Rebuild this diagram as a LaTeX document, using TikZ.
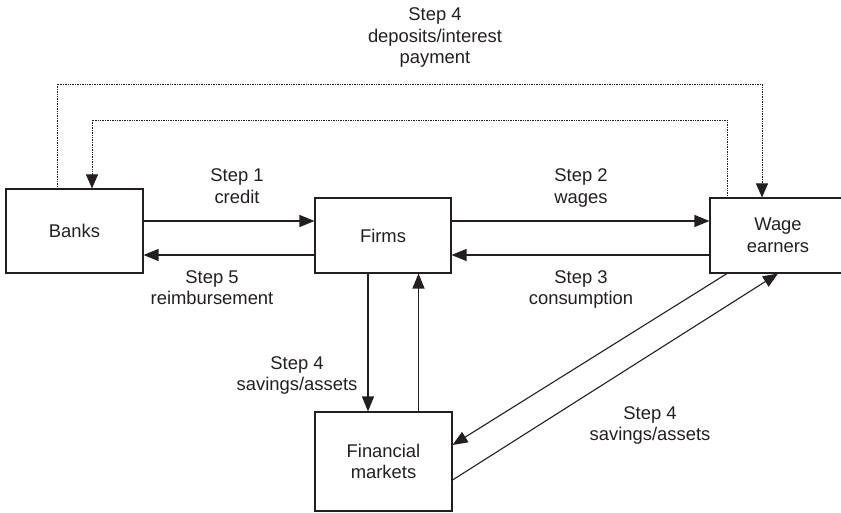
\documentclass[tikz,border=0pt]{standalone}
\usepackage{fontspec}
\setmainfont{Liberation Sans}
\usetikzlibrary{arrows.meta}
\definecolor{ink}{HTML}{231F20}
\tikzset{
  box/.style={draw=ink, line width=1.1pt, minimum width=136pt, inner sep=0pt, align=center, text=ink, font=\fontsize{18.4}{21.5}\selectfont},
  lbl/.style={anchor=base, inner sep=0pt, text=ink, font=\fontsize{18.4}{21.5}\selectfont},
  arr/.style={draw=ink, line width=1.2pt, -{Triangle[length=15pt,width=12pt]}},
  dotarr/.style={draw=ink, line width=0.8pt, dash pattern=on 0.8pt off 0.9pt, -{Triangle[length=14pt,width=12pt]}}
}
\begin{document}
\begin{tikzpicture}[x=1pt,y=-1pt]
\useasboundingbox (0,0) rectangle (841,513);
% boxes
\node[box, minimum width=137pt, minimum height=84pt] (banks) at (74.5,231) {Banks};
\node[box, minimum height=75pt] (firms) at (383,235.5) {Firms};
\node[box, minimum height=75pt] (wage) at (778,235.5) {Wage\\earners};
\node[box, minimum width=137pt, minimum height=99pt] (fin) at (383.5,461.5) {Financial\\markets};
% horizontal flows
\draw[arr] (banks.east |- 0,221) -- (firms.west |- 0,221);
\draw[arr] (firms.west |- 0,255) -- (banks.east |- 0,255);
\draw[arr] (firms.east |- 0,221) -- (wage.west |- 0,221);
\draw[arr] (wage.west |- 0,255) -- (firms.east |- 0,255);
% vertical flows firms / financial markets
\draw[arr] (firms.south -| 368,0) -- (fin.north -| 368,0);
\draw[arr] (fin.north -| 418.5,0) -- (firms.south -| 418.5,0);
% diagonal flows
\draw[arr, line width=1.1pt] (wage.south -| 727,0) -- (fin.east |- 0,445);
\draw[arr, line width=1.1pt] (fin.east |- 0,480) -- (wage.south -| 778,0);
% dotted flows
\coordinate (o1) at (57,84);
\coordinate (o2) at (762,84);
\coordinate (i1) at (727,120);
\coordinate (i2) at (92,120);
\draw[dotarr] (banks.north -| o1) -- (o1) -- (o2) -- (wage.north -| o2);
\draw[dotarr] (wage.north -| i1) -- (i1) -- (i2) -- (banks.north -| i2);
% labels
\node[lbl] (t1) at (435,21) {Step 4};
\node[lbl] (t2) at (435,42.5) {deposits/interest};
\node[lbl] (t3) at (435,64) {payment};
\node[lbl] (s1a) at (237,182) {Step 1};
\node[lbl] (s1b) at (237,203.5) {credit};
\node[lbl] (s2a) at (581,182) {Step 2};
\node[lbl] (s2b) at (581,203.5) {wages};
\node[lbl] (s5a) at (212,283.5) {Step 5};
\node[lbl] (s5b) at (212,304.5) {reimbursement};
\node[lbl] (s3a) at (581,283.5) {Step 3};
\node[lbl] (s3b) at (581,304.5) {consumption};
\node[lbl] (s4a) at (297,369) {Step 4};
\node[lbl] (s4b) at (297,390.5) {savings/assets};
\node[lbl] (s6a) at (650,419) {Step 4};
\node[lbl] (s6b) at (650,440.5) {savings/assets};
\end{tikzpicture}
\end{document}
